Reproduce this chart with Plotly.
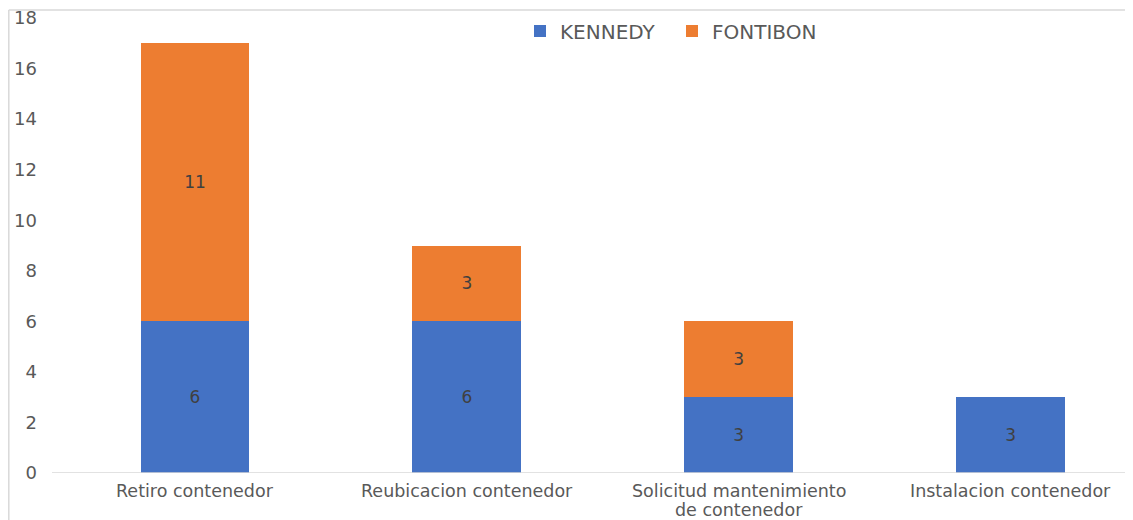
import plotly.graph_objects as go

categories = ["Retiro contenedor", "Reubicacion contenedor",
              "Solicitud mantenimiento<br>de contenedor", "Instalacion contenedor"]
kennedy = [6, 6, 3, 3]
fontibon = [11, 3, 3, 0]
y_ticks = [0, 2, 4, 6, 8, 10, 12, 14, 16, 18]

OFF = 8  # page body margin
W, H = 1133 - OFF, 520 - OFF
L, R, T, B = 59 - OFF, 0, 18 - OFF, 47
pw = W - L - R
ph = H - T - B

def sx(p):  # screen pixel -> paper x
    return (p - OFF - L) / pw

def sy(p):  # screen pixel -> paper y
    return (H - B - (p - OFF)) / ph

font = "DejaVu Sans, Liberation Sans, Arial, sans-serif"
fig = go.Figure()
fig.add_trace(go.Bar(
    name="KENNEDY", x=categories, y=kennedy,
    marker=dict(color="#4472C4", line=dict(width=0)),
    text=[str(v) if v else "" for v in kennedy],
    textposition="inside", insidetextanchor="middle",
    textfont=dict(color="#404040", size=17, family=font),
    legend="legend",
))
fig.add_trace(go.Bar(
    name="FONTIBON", x=categories, y=fontibon,
    marker=dict(color="#ED7D31", line=dict(width=0)),
    text=[str(v) if v else "" for v in fontibon],
    textposition="inside", insidetextanchor="middle",
    textfont=dict(color="#404040", size=17, family=font),
    legend="legend2",
))

leg_common = dict(orientation="h", xanchor="left", yanchor="middle",
                  y=sy(31), font=dict(size=20, color="#595959"),
                  bgcolor="rgba(0,0,0,0)")
fig.update_layout(
    width=W, height=H,
    margin=dict(l=L, r=R, t=T, b=B, autoexpand=False),
    barmode="stack", bargap=0.6,
    paper_bgcolor="white", plot_bgcolor="white",
    font=dict(family=font, color="#595959", size=18),
    showlegend=True,
    legend=dict(x=sx(520), **leg_common),
    legend2=dict(x=sx(672), **leg_common),
)
fig.update_xaxes(
    range=[-0.5, 3.45], showgrid=False, zeroline=False, showline=False,
    ticks="", showticklabels=False, automargin=False,
)
fig.update_yaxes(
    range=[0, 18], tickvals=y_ticks, showgrid=False, zeroline=False,
    showline=False, ticks="", ticklabelstandoff=21, ticklabeloverflow="allow",
    tickfont=dict(size=18, color="#595959"), automargin=False,
)
# category labels, line by line with tight spacing
line_y = [491, 510]
for cat in categories:
    for i, part in enumerate(cat.split("<br>")):
        fig.add_annotation(
            x=cat, xref="x", y=sy(line_y[i]), yref="paper",
            text=part, showarrow=False, xanchor="center", yanchor="middle",
            font=dict(size=17.5, color="#595959", family=font),
            borderpad=0,
        )
# baseline
fig.add_shape(type="line", xref="paper", yref="y",
              x0=sx(52), x1=1.0, y0=0, y1=0,
              line=dict(color="#D9D9D9", width=1.5))
# outer border (left and top)
fig.add_shape(type="line", xref="paper", yref="paper",
              x0=sx(8.8), x1=sx(8.8), y0=sy(10), y1=sy(520),
              line=dict(color="#D9D9D9", width=1.5))
fig.add_shape(type="line", xref="paper", yref="paper",
              x0=sx(8.8), x1=1.0, y0=sy(10), y1=sy(10),
              line=dict(color="#D9D9D9", width=1.5))

fig.write_html("out.html")
